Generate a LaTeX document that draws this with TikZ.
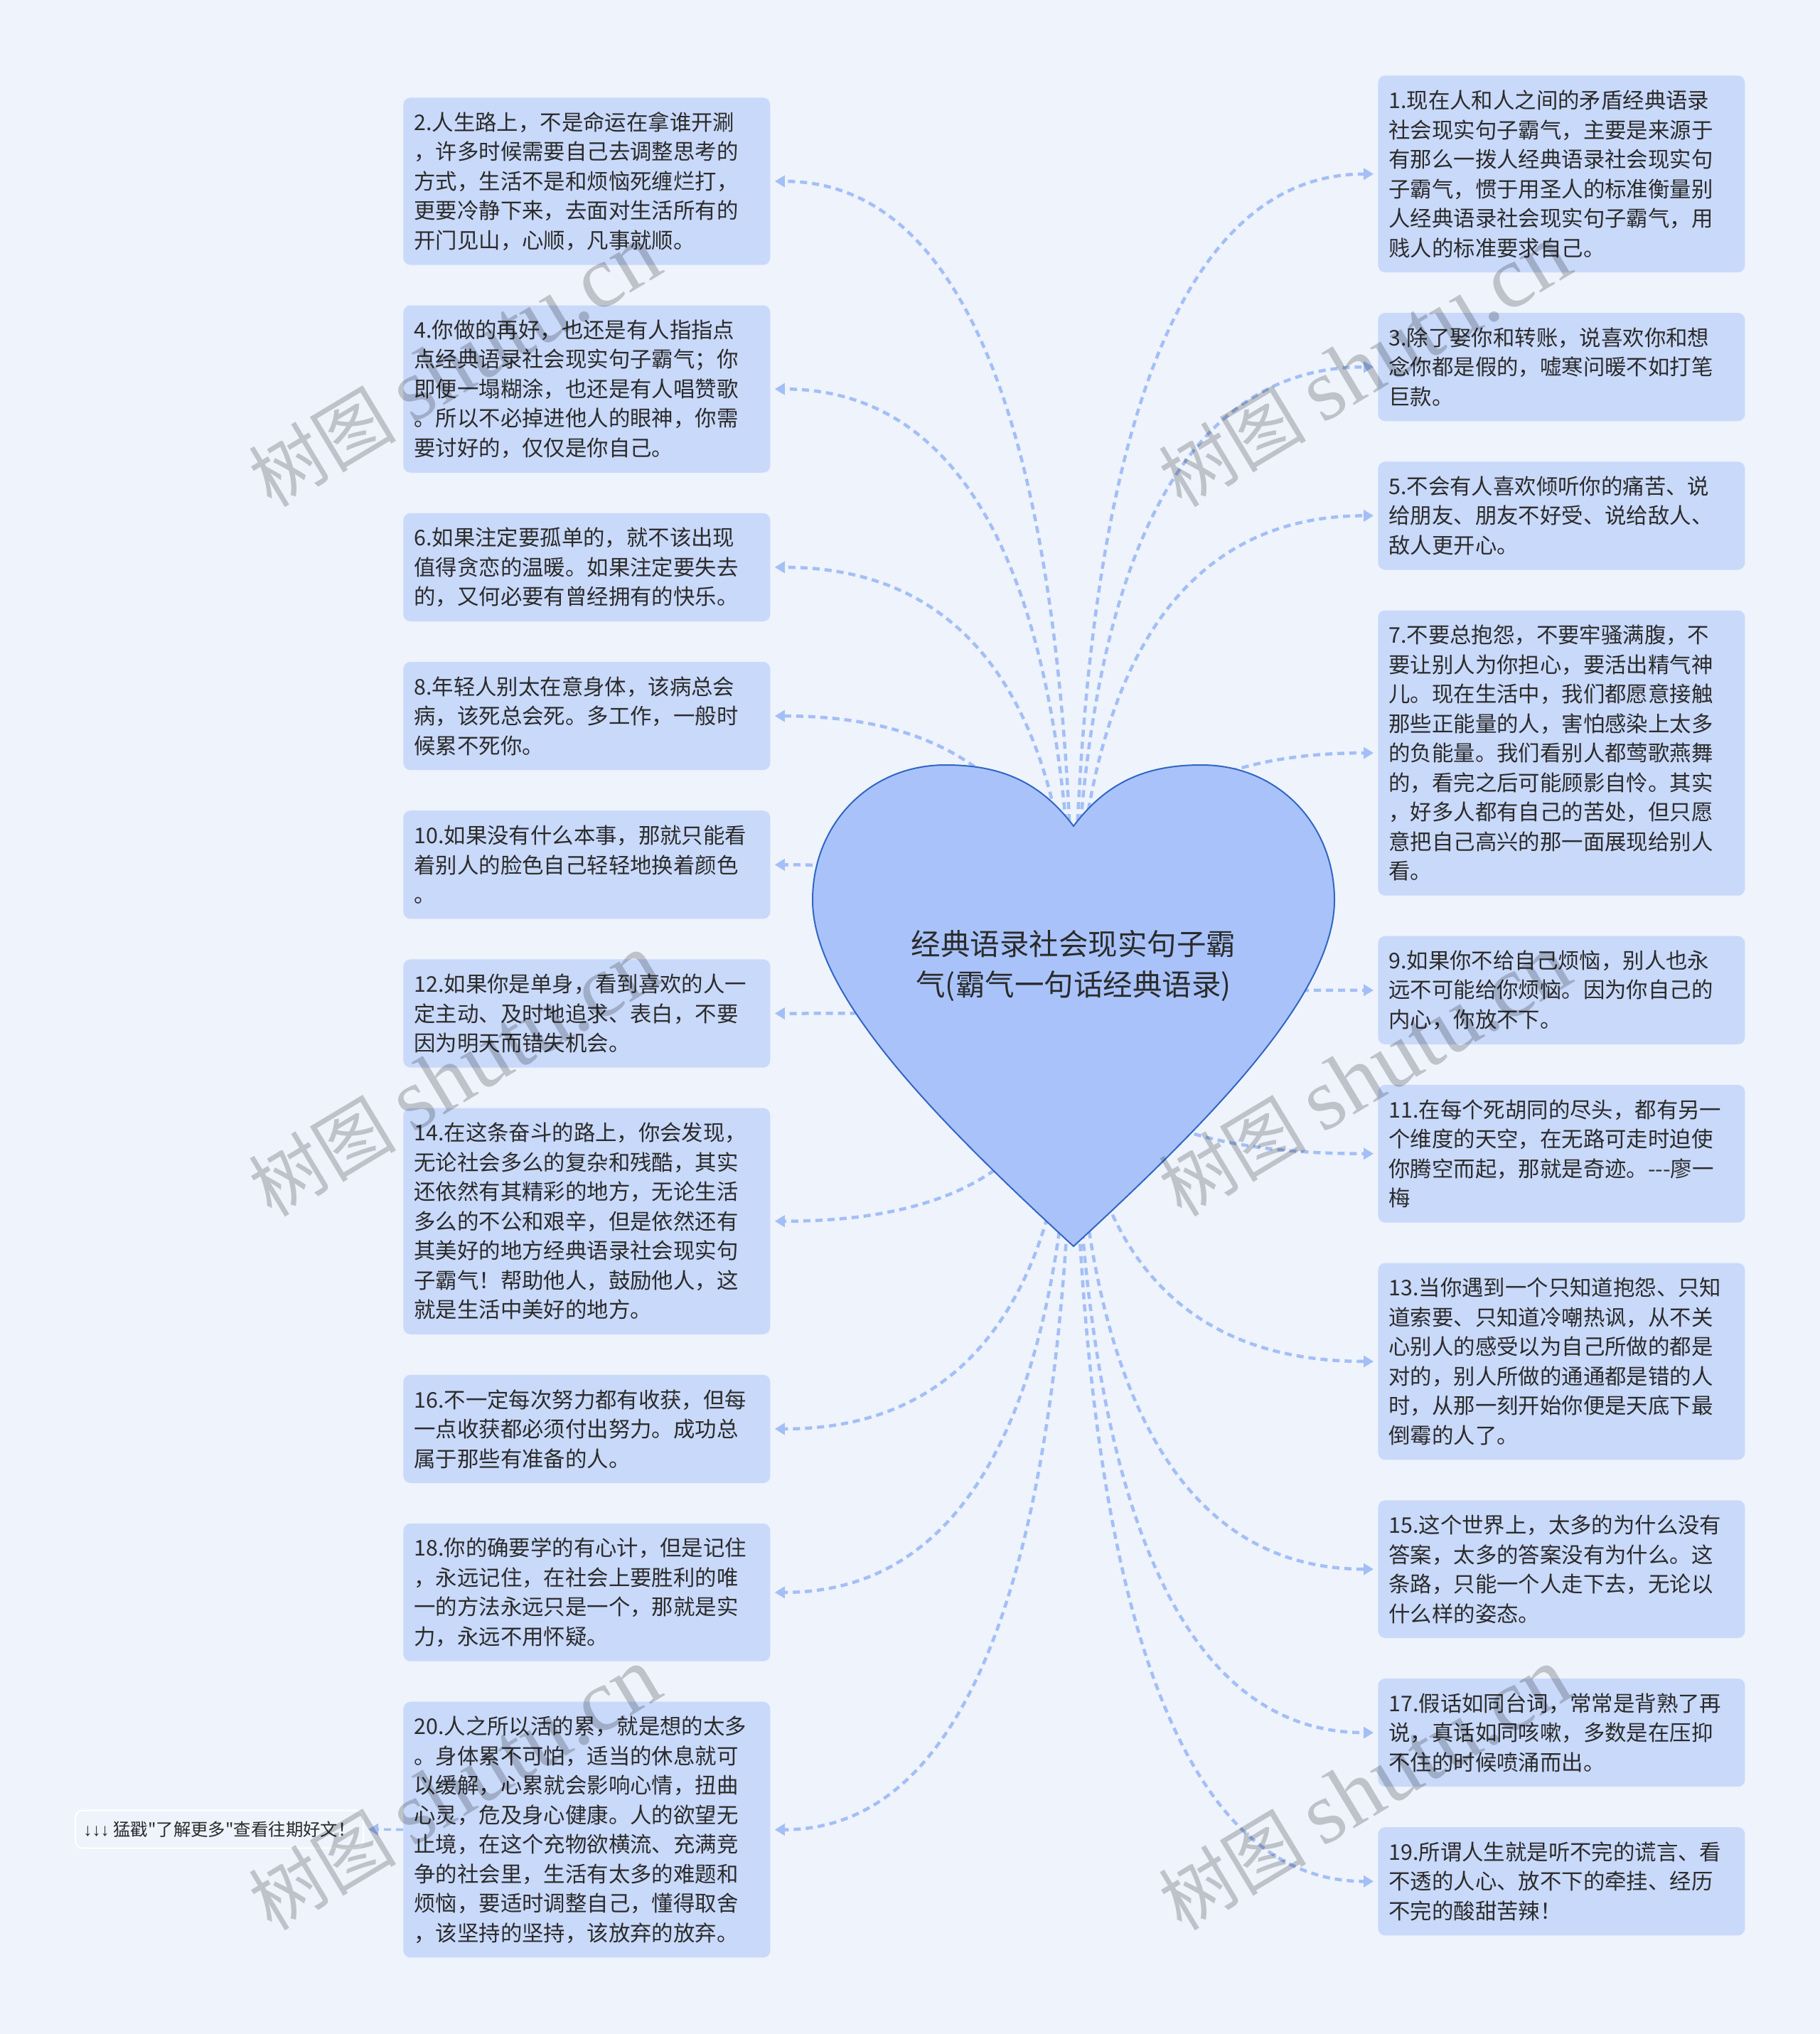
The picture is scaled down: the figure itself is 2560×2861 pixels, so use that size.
\documentclass[tikz,border=0pt]{standalone}
\usepackage{fontspec}
\setmainfont{Noto Sans CJK SC}
\newfontfamily\plaincjk{Noto Sans CJK SC}
\newfontfamily\wmserif{Liberation Serif}
\newfontfamily\arrowfont{Liberation Sans}
\usetikzlibrary{arrows.meta,calc}
\definecolor{bgc}{HTML}{EEF3FC}
\definecolor{boxc}{HTML}{C9D9FA}
\definecolor{heartc}{HTML}{A9C3FA}
\definecolor{heartline}{HTML}{3166C4}
\definecolor{connc}{HTML}{A3BFF5}
\definecolor{txtc}{HTML}{2B2B2B}
\newcommand\linkL[1]{\draw[conn] (root) .. controls ($(root)!0.6667!(root|-#1.east)$) and ($(#1.east)!0.6667!(root|-#1.east)$) .. (#1.east);}
\newcommand\linkR[1]{\draw[conn] (root) .. controls ($(root)!0.6667!(root|-#1.west)$) and ($(#1.west)!0.6667!(root|-#1.west)$) .. (#1.west);}
\begin{document}
\begin{tikzpicture}[x=0.5pt,y=-0.5pt,
  box/.style={fill=boxc, rounded corners=5pt, anchor=north west, text width=243pt,
    inner xsep=7.5pt, inner ysep=0pt, align=left, text=txtc,
    font=\fontsize{15.2}{20.75}\selectfont},
  n3/.style={minimum height=76.1pt},
  n4/.style={minimum height=96.85pt},
  n5/.style={minimum height=117.6pt},
  n6/.style={minimum height=138.35pt},
  n7/.style={minimum height=159.1pt},
  n8/.style={minimum height=179.85pt},
  n9/.style={minimum height=200.6pt},
  conn/.style={draw=connc, line width=2.25pt, dash pattern=on 5pt off 3.5pt,
    shorten >=3pt, -{Triangle[length=7pt,width=8pt]}},
  wm/.style={rotate=31, text=black, opacity=0.2, inner sep=0pt}
]
\useasboundingbox (0,0) rectangle (2560,2861);
\fill[bgc] (0,0) rectangle (2560,2861);

% left column
\node[box,n5] (b2) at (567,137) {2.人生路上，不是命运在拿谁开涮\\，许多时候需要自己去调整思考的\\方式，生活不是和烦恼死缠烂打，\\更要冷静下来，去面对生活所有的\\开门见山，心顺，凡事就顺。};
\node[box,n5] (b4) at (567,429.2) {4.你做的再好，也还是有人指指点\\点经典语录社会现实句子霸气；你\\即便一塌糊涂，也还是有人唱赞歌\\。所以不必掉进他人的眼神，你需\\要讨好的，仅仅是你自己。};
\node[box,n3] (b6) at (567,721.4) {6.如果注定要孤单的，就不该出现\\值得贪恋的温暖。如果注定要失去\\的，又何必要有曾经拥有的快乐。};
\node[box,n3] (b8) at (567,930.6) {8.年轻人别太在意身体，该病总会\\病，该死总会死。多工作，一般时\\候累不死你。};
\node[box,n3] (b10) at (567,1139.8) {10.如果没有什么本事，那就只能看\\着别人的脸色自己轻轻地换着颜色\\。};
\node[box,n3] (b12) at (567,1349) {12.如果你是单身，看到喜欢的人一\\定主动、及时地追求、表白，不要\\因为明天而错失机会。};
\node[box,n7] (b14) at (567,1558.2) {14.在这条奋斗的路上，你会发现，\\无论社会多么的复杂和残酷，其实\\还依然有其精彩的地方，无论生活\\多么的不公和艰辛，但是依然还有\\其美好的地方经典语录社会现实句\\子霸气！帮助他人，鼓励他人，这\\就是生活中美好的地方。};
\node[box,n3] (b16) at (567,1933.4) {16.不一定每次努力都有收获，但每\\一点收获都必须付出努力。成功总\\属于那些有准备的人。};
\node[box,n4] (b18) at (567,2142.6) {18.你的确要学的有心计，但是记住\\，永远记住，在社会上要胜利的唯\\一的方法永远只是一个，那就是实\\力，永远不用怀疑。};
\node[box,n8] (b20) at (567,2393.3) {20.人之所以活的累，就是想的太多\\。身体累不可怕，适当的休息就可\\以缓解，心累就会影响心情，扭曲\\心灵，危及身心健康。人的欲望无\\止境，在这个充物欲横流、充满竞\\争的社会里，生活有太多的难题和\\烦恼，要适时调整自己，懂得取舍\\，该坚持的坚持，该放弃的放弃。};

% right column
\node[box,n6] (b1) at (1938,106) {1.现在人和人之间的矛盾经典语录\\社会现实句子霸气，主要是来源于\\有那么一拨人经典语录社会现实句\\子霸气，惯于用圣人的标准衡量别\\人经典语录社会现实句子霸气，用\\贱人的标准要求自己。};
\node[box,n3] (b3) at (1938,439.7) {3.除了娶你和转账，说喜欢你和想\\念你都是假的，嘘寒问暖不如打笔\\巨款。};
\node[box,n3] (b5) at (1938,648.9) {5.不会有人喜欢倾听你的痛苦、说\\给朋友、朋友不好受、说给敌人、\\敌人更开心。};
\node[box,n9] (b7) at (1938,858.1) {7.不要总抱怨，不要牢骚满腹，不\\要让别人为你担心，要活出精气神\\儿。现在生活中，我们都愿意接触\\那些正能量的人，害怕感染上太多\\的负能量。我们看别人都莺歌燕舞\\的，看完之后可能顾影自怜。其实\\，好多人都有自己的苦处，但只愿\\意把自己高兴的那一面展现给别人\\看。};
\node[box,n3] (b9) at (1938,1316.3) {9.如果你不给自己烦恼，别人也永\\远不可能给你烦恼。因为你自己的\\内心，你放不下。};
\node[box,n4] (b11) at (1938,1525.5) {11.在每个死胡同的尽头，都有另一\\个维度的天空，在无路可走时迫使\\你腾空而起，那就是奇迹。{-}{-}{-}廖一\\梅};
\node[box,n6] (b13) at (1938,1776.2) {13.当你遇到一个只知道抱怨、只知\\道索要、只知道冷嘲热讽，从不关\\心别人的感受以为自己所做的都是\\对的，别人所做的通通都是错的人\\时，从那一刻开始你便是天底下最\\倒霉的人了。};
\node[box,n4] (b15) at (1938,2109.9) {15.这个世界上，太多的为什么没有\\答案，太多的答案没有为什么。这\\条路，只能一个人走下去，无论以\\什么样的姿态。};
\node[box,n3] (b17) at (1938,2360.6) {17.假话如同台词，常常是背熟了再\\说，真话如同咳嗽，多数是在压抑\\不住的时候喷涌而出。};
\node[box,n3] (b19) at (1938,2569.8) {19.所谓人生就是听不完的谎言、看\\不透的人心、放不下的牵挂、经历\\不完的酸甜苦辣！};

% small side node
\node[draw=white, line width=1pt, fill=bgc, rounded corners=5pt, minimum width=202.5pt,
  minimum height=26.5pt, inner sep=0pt, text=txtc, font=\fontsize{12.2}{13}\plaincjk]
  (more) at (308.5,2573) {{\arrowfont ↓↓↓} 猛戳"了解更多"查看往期好文！};
\draw[conn, line width=1.8pt] (b20.west) -- (more.east);

% connectors from the heart
\coordinate (root) at (1510,1410);
\linkL{b2}\linkL{b4}\linkL{b6}\linkL{b8}\linkL{b10}
\linkL{b12}\linkL{b14}\linkL{b16}\linkL{b18}\linkL{b20}
\linkR{b1}\linkR{b3}\linkR{b5}\linkR{b7}\linkR{b9}
\linkR{b11}\linkR{b13}\linkR{b15}\linkR{b17}\linkR{b19}

% heart
\draw[fill=heartc, draw=heartline, line width=1pt]
  (1510,1162) .. controls (1462,1098) and (1405,1076) .. (1330,1076)
  .. controls (1222,1076) and (1143,1160) .. (1143,1266)
  .. controls (1143,1400) and (1320,1578) .. (1510,1753)
  .. controls (1700,1578) and (1877,1400) .. (1877,1266)
  .. controls (1877,1160) and (1798,1076) .. (1690,1076)
  .. controls (1615,1076) and (1558,1098) .. (1510,1162) -- cycle;
\node[align=center, text=txtc, font=\fontsize{20.75}{28.5}\selectfont] (title) at (1510,1358)
  {经典语录社会现实句子霸\\气(霸气一句话经典语录)};

% watermarks
\foreach \i/\px/\py in {1/640/515, 2/1920/515, 3/640/1513, 4/1920/1513, 5/640/2517, 6/1920/2517}{
  \node[wm] (wm\i) at (\px,\py) {\fontsize{52}{52}\selectfont 树图 {\wmserif\fontsize{62}{62}\selectfont shutu.cn}};
}
\end{tikzpicture}
\end{document}
